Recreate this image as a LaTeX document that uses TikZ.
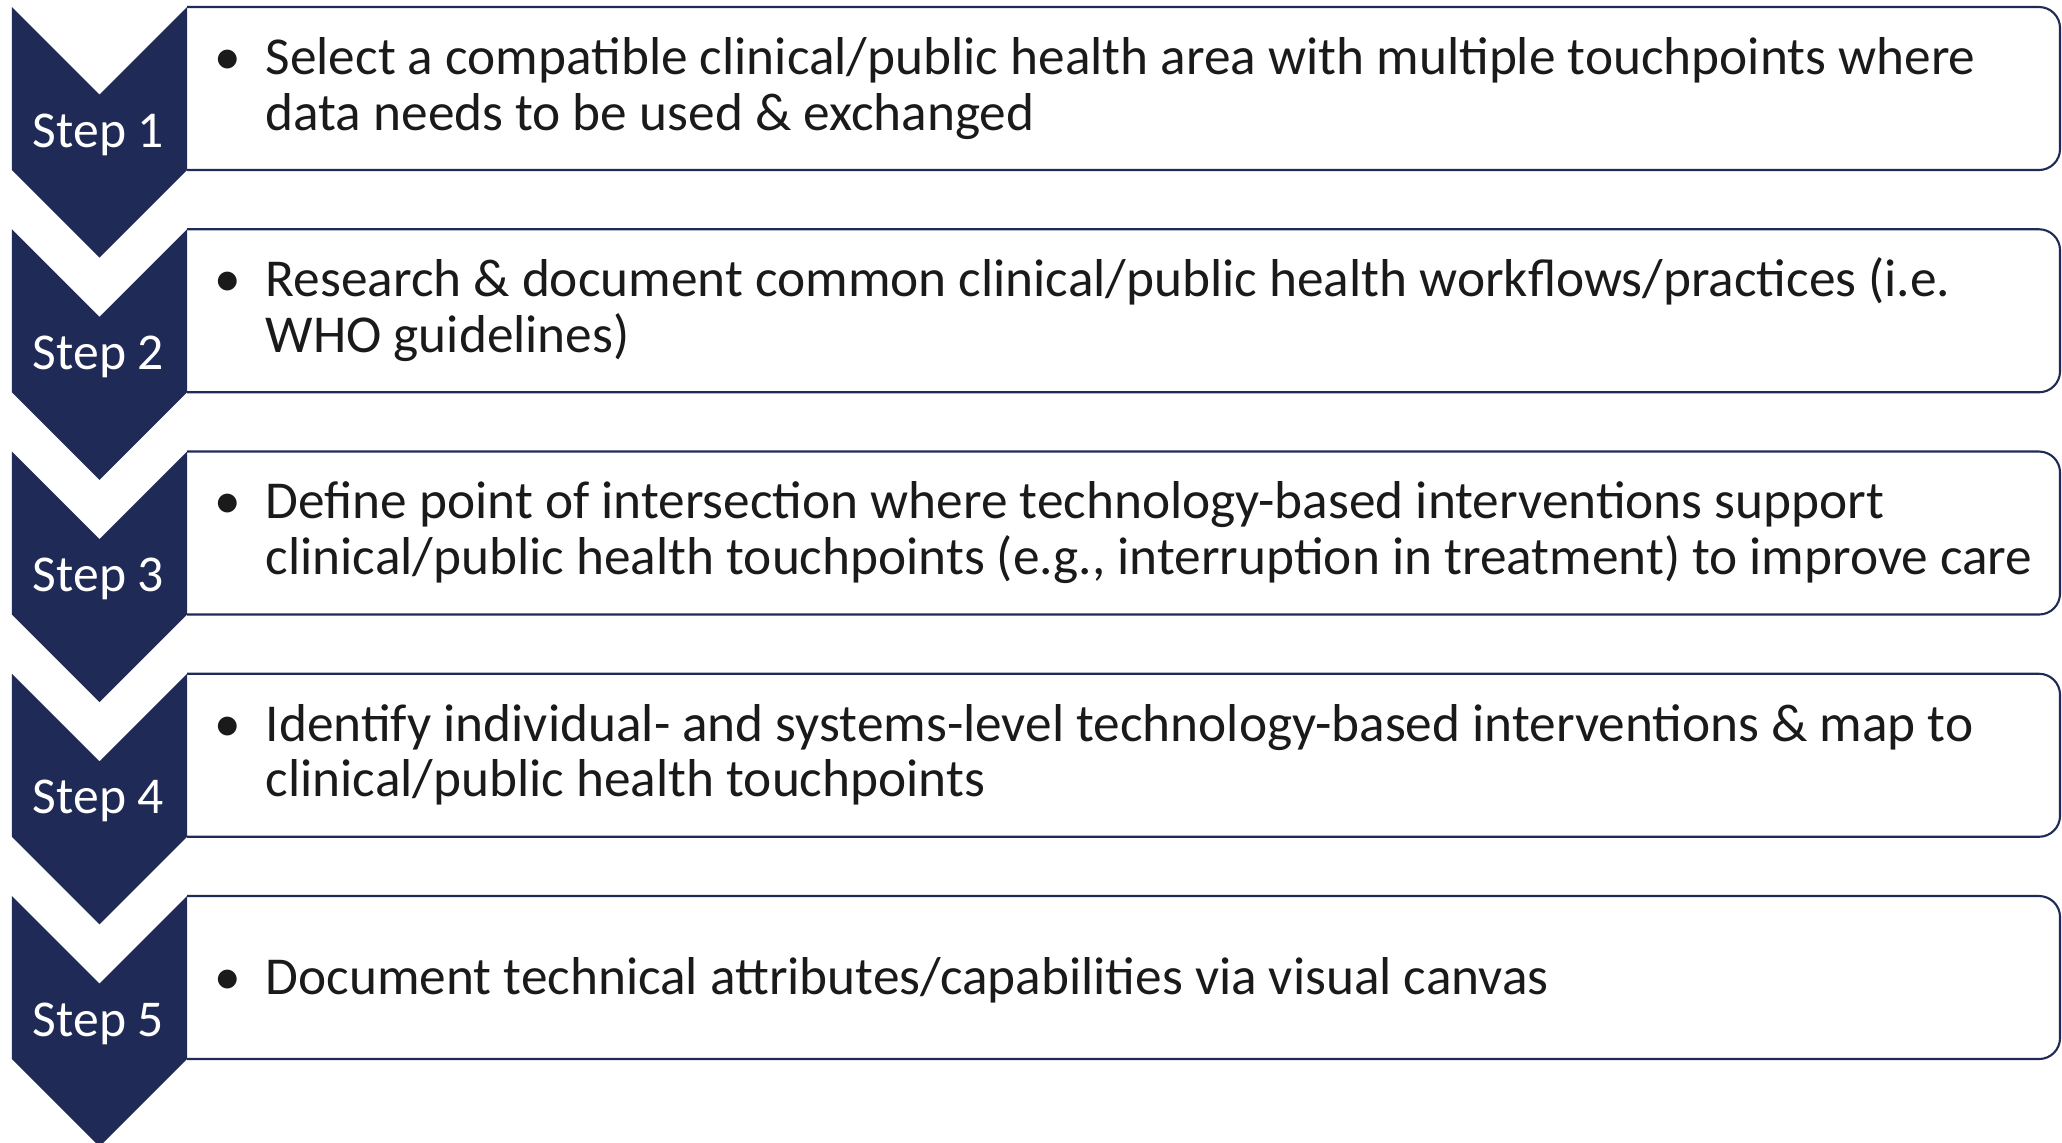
\documentclass[tikz,border=0pt]{standalone}
\usepackage{fontspec}
\setmainfont{Carlito}
\usetikzlibrary{positioning}
\definecolor{Navy}{HTML}{1F2A56}
\definecolor{Ink}{HTML}{1A1A1A}

\begin{document}
\begin{tikzpicture}[
    rim/.style={draw=Navy,line width=0.6pt,rounded corners=0.21cm},
    chevron/.style={fill=Navy},
    steplabel/.style={text=white,font=\fontsize{14.7}{14.7}\selectfont,anchor=base,inner sep=0pt},
    item/.style={text=Ink,font=\fontsize{15.17}{15.8}\selectfont,align=left,
      anchor=base west,inner sep=0pt},
    dot/.style={text=Ink,font=\fontsize{15.17}{15.8}\selectfont,anchor=base,inner sep=0pt}
  ]
  \useasboundingbox (0,0) rectangle (20.62,-11.42);
  % five steps: outlined panel, arrow-down chevron, label
  \foreach \k [evaluate=\k as \t using -0.07-2.2225*(\k-1)] in {1,...,5} {
    \draw[rim] (1.87,\t) -- (20.60,\t) -- (20.60,\t-1.63) -- (1.87,\t-1.63);
    \fill[chevron] (0.12,\t) -- (0.995,\t-0.875) -- (1.87,\t) -- (1.87,\t-1.63)
      -- (0.995,\t-2.505) -- (0.12,\t-1.63) -- cycle;
    \node[steplabel] (step\k) at (0.985,\t-1.40) {Step \k};
  }
  % items sit on the baseline of their last line
  \node[item] (item1) at (2.65,-1.30)
    {Select a compatible clinical/public health area with multiple touchpoints where\\
     data needs to be used \& exchanged};
  \node[item] (item2) at (2.65,-3.5225)
    {Research \& document common clinical/public health workflows/practices (i.e.\\
     WHO guidelines)};
  \node[item] (item3) at (2.65,-5.745)
    {Define point of intersection where technology-based interventions support\\
     clinical/public health touchpoints (e.g., interruption in treatment) to improve care};
  \node[item] (item4) at (2.65,-7.9675)
    {Identify individual- and systems-level technology-based interventions \& map to\\
     clinical/public health touchpoints};
  \node[item] (item5) at (2.65,-9.94)
    {Document technical attributes/capabilities via visual canvas};
  % bullet goes on the first line
  \foreach \k/\up in {1/0.557,2/0.557,3/0.557,4/0.557,5/0}
    \node[dot] (dot\k) at ([xshift=-0.37cm,yshift=\up cm]item\k.base west) {•};
\end{tikzpicture}
\end{document}
